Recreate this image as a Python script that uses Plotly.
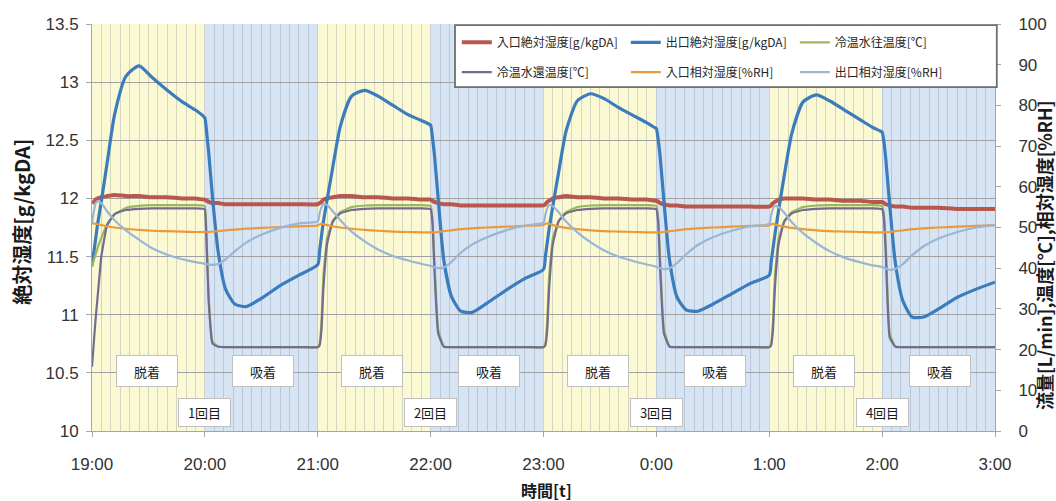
import plotly.graph_objects as go

# Time axis: minutes after 19:00 (sample times of the logged data)
minutes = [
    0, 1, 2, 3, 5, 8, 12, 18, 25, 32, 40, 48, 55, 59, 60, 61, 62, 64, 67, 71, 76, 82, 90, 100, 110,
    120, 121, 122, 123, 125, 128, 132, 138, 145, 152, 160, 168, 175, 179, 180, 181, 182, 184, 187, 191, 196, 202, 210, 220, 230,
    240, 241, 242, 243, 245, 248, 252, 258, 265, 272, 280, 288, 295, 299, 300, 301, 302, 304, 307, 311, 316, 322, 330, 340, 350,
    360, 361, 362, 363, 365, 368, 372, 378, 385, 392, 400, 408, 415, 419, 420, 421, 422, 424, 427, 431, 436, 442, 450, 460, 470,
    480,
]

# Inlet absolute humidity [g/kgDA]
inlet_abs = [
    11.96, 11.97, 11.99, 12.00, 12.01, 12.02, 12.03, 12.02, 12.02, 12.01, 12.01, 12.00, 12.00, 11.99, 11.99, 11.98, 11.97, 11.96, 11.96, 11.95, 11.95, 11.95, 11.95, 11.95, 11.95,
    11.95, 11.96, 11.97, 11.99, 12.00, 12.01, 12.02, 12.02, 12.01, 12.01, 12.00, 12.00, 11.99, 11.99, 11.99, 11.98, 11.97, 11.96, 11.95, 11.95, 11.94, 11.94, 11.94, 11.94, 11.94,
    11.94, 11.95, 11.97, 11.98, 12.00, 12.01, 12.02, 12.01, 12.01, 12.00, 12.00, 11.99, 11.99, 11.98, 11.98, 11.97, 11.96, 11.95, 11.94, 11.94, 11.93, 11.93, 11.93, 11.93, 11.93,
    11.93, 11.94, 11.96, 11.97, 11.99, 12.00, 12.00, 12.00, 11.99, 11.99, 11.98, 11.98, 11.97, 11.97, 11.97, 11.96, 11.95, 11.94, 11.93, 11.93, 11.92, 11.92, 11.92, 11.91, 11.91,
    11.91,
]

# Outlet absolute humidity [g/kgDA]
outlet_abs = [
    11.42, 11.54, 11.66, 11.78, 11.98, 12.30, 12.72, 13.05, 13.14, 13.04, 12.93, 12.83, 12.76, 12.71, 12.69, 12.56, 12.40, 12.02, 11.55, 11.22, 11.09, 11.07, 11.14, 11.25, 11.34,
    11.43, 11.55, 11.68, 11.80, 11.99, 12.27, 12.62, 12.88, 12.93, 12.88, 12.80, 12.72, 12.67, 12.64, 12.63, 12.52, 12.38, 12.00, 11.47, 11.16, 11.03, 11.02, 11.10, 11.21, 11.31,
    11.39, 11.50, 11.62, 11.74, 11.94, 12.22, 12.58, 12.84, 12.90, 12.86, 12.78, 12.71, 12.65, 12.61, 12.60, 12.50, 12.36, 11.98, 11.47, 11.15, 11.04, 11.03, 11.09, 11.18, 11.27,
    11.34, 11.45, 11.57, 11.69, 11.90, 12.20, 12.56, 12.83, 12.89, 12.84, 12.76, 12.68, 12.61, 12.58, 12.57, 12.48, 12.33, 11.95, 11.45, 11.12, 10.98, 10.98, 11.05, 11.15, 11.22,
    11.28,
]

# Chilled/hot water supply temperature [°C]
supply_temp = [
    40.3, 42.0, 43.5, 45.0, 47.5, 50.8, 53.2, 54.8, 55.3, 55.5, 55.5, 55.5, 55.5, 55.4, 55.2, 46.0, 33.0, 22.0, 20.8, 20.6, 20.6, 20.6, 20.6, 20.6, 20.6,
    20.6, 21.5, 27.0, 38.0, 47.5, 51.5, 53.8, 55.0, 55.4, 55.5, 55.5, 55.5, 55.5, 55.4, 55.3, 52.0, 42.0, 25.0, 20.8, 20.6, 20.6, 20.6, 20.6, 20.6, 20.6,
    20.6, 21.5, 27.0, 38.0, 47.5, 51.5, 53.8, 55.0, 55.4, 55.5, 55.5, 55.5, 55.5, 55.4, 55.3, 52.0, 42.0, 25.0, 20.8, 20.6, 20.6, 20.6, 20.6, 20.6, 20.6,
    20.6, 21.5, 27.0, 38.0, 47.5, 51.5, 53.8, 55.0, 55.4, 55.5, 55.5, 55.5, 55.5, 55.4, 55.3, 53.0, 45.0, 24.0, 20.8, 20.6, 20.6, 20.6, 20.6, 20.6, 20.6,
    20.6,
]

# Chilled/hot water return temperature [°C]
return_temp = [
    15.8, 22.0, 28.0, 33.0, 43.0, 50.5, 53.3, 54.3, 54.6, 54.7, 54.7, 54.7, 54.7, 54.6, 54.4, 45.0, 32.0, 21.5, 20.7, 20.6, 20.6, 20.6, 20.6, 20.6, 20.6,
    20.6, 21.0, 25.0, 35.0, 46.0, 51.5, 53.5, 54.3, 54.6, 54.7, 54.7, 54.7, 54.7, 54.6, 54.5, 51.0, 40.0, 24.0, 20.7, 20.6, 20.6, 20.6, 20.6, 20.6, 20.6,
    20.6, 21.0, 25.0, 35.0, 46.0, 51.5, 53.5, 54.3, 54.6, 54.7, 54.7, 54.7, 54.7, 54.6, 54.5, 51.0, 40.0, 24.0, 20.7, 20.6, 20.6, 20.6, 20.6, 20.6, 20.6,
    20.6, 21.0, 25.0, 35.0, 46.0, 51.5, 53.5, 54.3, 54.6, 54.7, 54.7, 54.7, 54.7, 54.6, 54.5, 52.0, 43.0, 23.0, 20.7, 20.6, 20.6, 20.6, 20.6, 20.6, 20.6,
    20.6,
]

# Inlet relative humidity [%RH]
inlet_rh = [
    51.0, 51.0, 50.9, 50.8, 50.6, 50.3, 50.0, 49.7, 49.4, 49.2, 49.1, 49.0, 48.9, 48.9, 48.9, 48.9, 48.9, 49.0, 49.1, 49.3, 49.5, 49.7, 49.9, 50.1, 50.3,
    50.5, 50.8, 50.9, 50.8, 50.6, 50.3, 50.0, 49.7, 49.4, 49.2, 49.0, 48.9, 48.8, 48.8, 48.8, 48.8, 48.8, 48.9, 49.1, 49.3, 49.6, 49.8, 50.0, 50.2, 50.4,
    50.6, 50.9, 51.0, 50.9, 50.6, 50.2, 49.9, 49.6, 49.3, 49.1, 49.0, 48.9, 48.8, 48.8, 48.8, 48.8, 48.8, 48.9, 49.1, 49.3, 49.6, 49.8, 50.0, 50.2, 50.4,
    50.5, 50.8, 50.9, 50.8, 50.5, 50.2, 49.9, 49.6, 49.3, 49.1, 49.0, 48.9, 48.8, 48.8, 48.8, 48.8, 48.8, 48.9, 49.1, 49.3, 49.6, 49.8, 50.0, 50.2, 50.4,
    50.6,
]

# Outlet relative humidity [%RH]
outlet_rh = [
    51.0, 54.0, 56.0, 56.5, 56.0, 54.0, 51.8, 49.3, 47.0, 44.9, 43.3, 42.2, 41.5, 41.2, 41.1, 41.0, 40.9, 40.8, 41.0, 42.2, 44.2, 46.3, 48.2, 49.9, 51.0,
    51.5, 53.5, 55.0, 55.8, 55.5, 54.0, 51.8, 49.0, 46.6, 44.6, 43.0, 41.9, 41.1, 40.7, 40.6, 40.4, 40.2, 40.0, 40.2, 41.5, 43.8, 45.8, 47.6, 49.3, 50.5,
    51.2, 53.2, 54.8, 55.5, 55.2, 53.8, 51.5, 48.8, 46.4, 44.4, 42.8, 41.7, 40.9, 40.5, 40.4, 40.2, 40.0, 39.8, 40.0, 41.3, 43.5, 45.7, 47.6, 49.2, 50.3,
    50.9, 53.0, 54.6, 55.3, 55.0, 53.6, 51.3, 48.6, 46.2, 44.2, 42.6, 41.5, 40.7, 40.4, 40.3, 40.1, 39.9, 39.6, 39.8, 41.0, 43.2, 45.4, 47.3, 48.9, 50.0,
    50.6,
]

hour_ticks = [0, 60, 120, 180, 240, 300, 360, 420, 480]
hour_labels = ["19:00", "20:00", "21:00", "22:00", "23:00", "0:00", "1:00", "2:00", "3:00"]
left_ticks = [10, 10.5, 11, 11.5, 12, 12.5, 13, 13.5]
left_labels = ["10", "10.5", "11", "11.5", "12", "12.5", "13", "13.5"]
right_ticks = [0, 10, 20, 30, 40, 50, 60, 70, 80, 90, 100]
right_labels = ["0", "10", "20", "30", "40", "50", "60", "70", "80", "90", "100"]

cycle_starts = [0, 120, 240, 360]
cycle_names = ["1回目", "2回目", "3回目", "4回目"]
phase_desorb = "脱着"
phase_adsorb = "吸着"

JP = "Noto Sans CJK JP"
NUM = "Liberation Sans"

fig = go.Figure()

series = [
    ("入口絶対湿度[g/kgDA]", inlet_abs, "#b9574a", 4.0, 0.5, "y", "legend"),
    ("出口絶対湿度[g/kgDA]", outlet_abs, "#3b7cbc", 3.2, 0.6, "y", "legend"),
    ("冷温水往温度[℃]", supply_temp, "#9cb85c", 2.2, 0.35, "y2", "legend"),
    ("冷温水還温度[℃]", return_temp, "#726c92", 2.2, 0.35, "y2", "legend2"),
    ("入口相対湿度[%RH]", inlet_rh, "#eb9a3a", 2.2, 0.6, "y2", "legend2"),
    ("出口相対湿度[%RH]", outlet_rh, "#9ab6d6", 2.2, 0.6, "y2", "legend2"),
]
for name, vals, color, width, smooth, axis, leg in series:
    fig.add_trace(go.Scatter(
        x=minutes, y=vals, mode="lines", name=name,
        line=dict(color=color, width=width, shape="spline", smoothing=smooth),
        yaxis=axis, legend=leg, hoverinfo="skip",
    ))

# Desorption / adsorption background bands
shapes = []
for start in cycle_starts:
    shapes.append(dict(type="rect", xref="x", yref="paper", x0=start, x1=start + 60,
                       y0=0, y1=1, fillcolor="#fbf8d4", line_width=0, layer="below"))
    shapes.append(dict(type="rect", xref="x", yref="paper", x0=start + 60, x1=start + 120,
                       y0=0, y1=1, fillcolor="#d6e4f4", line_width=0, layer="below"))
# Legend frame
shapes.append(dict(type="rect", xref="paper", yref="paper", x0=0.402, x1=1.002,
                   y0=0.845, y1=0.997, fillcolor="white",
                   line=dict(color="#6f6f6f", width=1.8), layer="above"))

annotations = []
box = dict(bgcolor="white", bordercolor="#bfbfbf", borderwidth=1, showarrow=False,
           font=dict(family=JP, size=13, color="#1a1a1a"))
for start, cname in zip(cycle_starts, cycle_names):
    annotations.append(dict(x=start + 29, y=10.52, xref="x", yref="y", text=phase_desorb,
                            width=56, height=26, borderpad=2, **box))
    annotations.append(dict(x=start + 91, y=10.52, xref="x", yref="y", text=phase_adsorb,
                            width=56, height=26, borderpad=2, **box))
    annotations.append(dict(x=start + 60, y=10.163, xref="x", yref="y", text=cname,
                            width=47, height=23, borderpad=2, **box))

title_font = dict(family=JP, size=18, color="#1a1a1a", weight="bold")
annotations.append(dict(x=-0.078, y=0.513, xref="paper", yref="paper", text="絶対湿度[g/kgDA]",
                        textangle=-90, showarrow=False, xanchor="center", yanchor="middle",
                        font=dict(family=JP, size=20, color="#1a1a1a", weight="bold")))
annotations.append(dict(x=1.054, y=0.432, xref="paper", yref="paper",
                        text="流量[L/min],温度[℃],相対湿度[%RH]",
                        textangle=-90, showarrow=False, xanchor="center", yanchor="middle",
                        font=title_font))
annotations.append(dict(x=0.503, y=-0.146, xref="paper", yref="paper", text="時間[t]",
                        showarrow=False, xanchor="center", yanchor="middle",
                        font=dict(family=JP, size=16, color="#1a1a1a", weight="bold")))

tick_font = dict(family=NUM, size=17, color="#333333")
legend_common = dict(orientation="h", xanchor="left", yanchor="middle", x=0.404,
                     bgcolor="rgba(0,0,0,0)", borderwidth=0,
                     entrywidth=124, entrywidthmode="pixels", itemwidth=30,
                     font=dict(family=JP, size=12, color="#262626"))

fig.update_layout(
    width=1056, height=501,
    margin=dict(l=92, r=61, t=24, b=70, autoexpand=False),
    paper_bgcolor="white", plot_bgcolor="white",
    showlegend=True,
    legend=dict(y=0.955, **legend_common),
    legend2=dict(y=0.882, **legend_common),
    shapes=shapes,
    annotations=annotations,
    xaxis=dict(
        range=[0, 480], tickvals=hour_ticks, ticktext=hour_labels,
        showline=True, linecolor="#a6a6a6", linewidth=1,
        ticks="outside", ticklen=5, tickcolor="#a6a6a6",
        showgrid=False, zeroline=False, tickfont=tick_font, ticklabelstandoff=13,
        minor=dict(dtick=5, showgrid=True, gridcolor="rgba(100,110,130,0.25)", gridwidth=1),
    ),
    yaxis=dict(
        range=[10, 13.5], tickvals=left_ticks, ticktext=left_labels,
        showline=True, linecolor="#a6a6a6", linewidth=1,
        ticks="outside", ticklen=5, tickcolor="#a6a6a6",
        showgrid=True, gridcolor="#a0a0a0", gridwidth=1, zeroline=False,
        tickfont=tick_font, ticklabelstandoff=4,
    ),
    yaxis2=dict(
        range=[0, 100], tickvals=right_ticks, ticktext=right_labels,
        overlaying="y", side="right",
        showline=True, linecolor="#a6a6a6", linewidth=1,
        ticks="outside", ticklen=5, tickcolor="#a6a6a6",
        showgrid=False, zeroline=False, tickfont=tick_font, ticklabelstandoff=14,
    ),
)

fig.write_html("out.html")
